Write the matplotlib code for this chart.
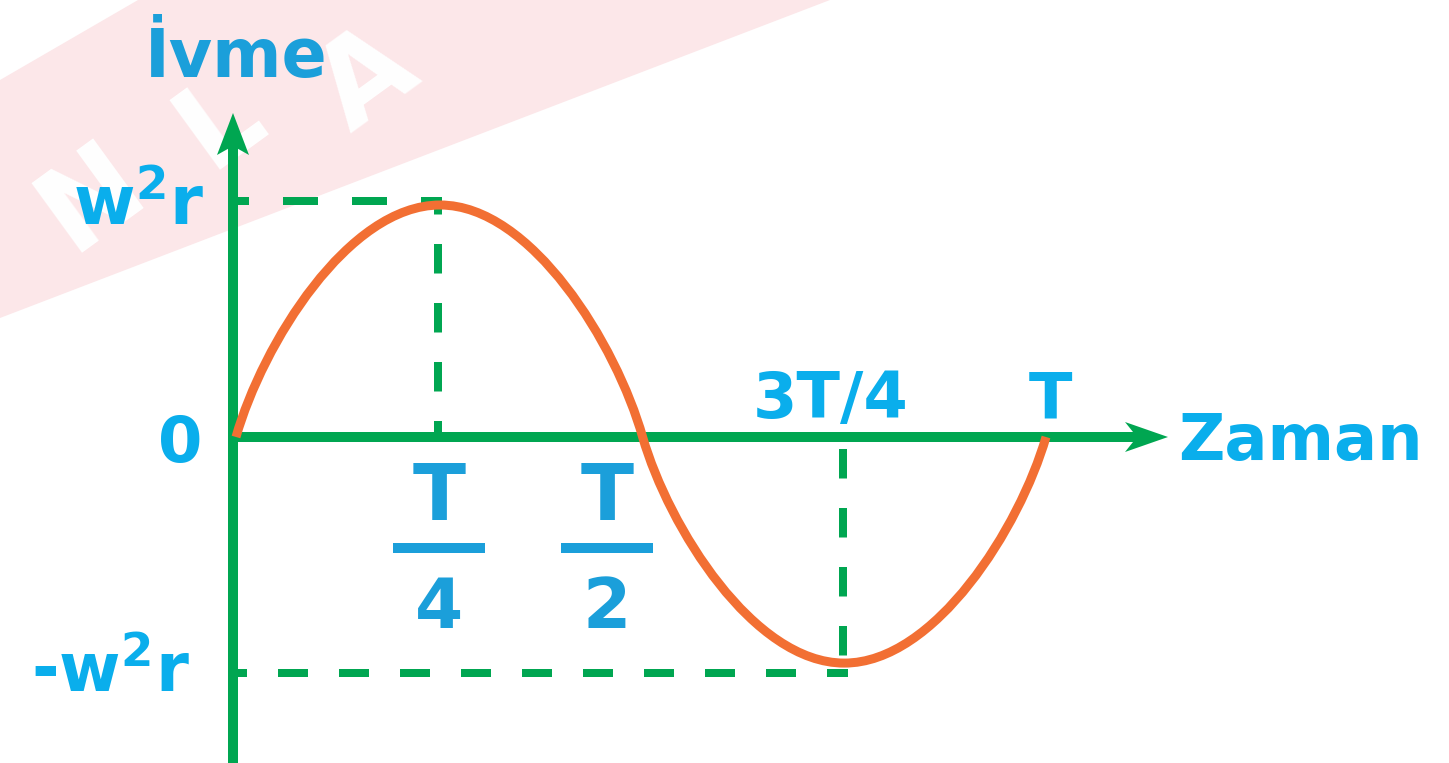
import numpy as np
import matplotlib
matplotlib.use("Agg")
import matplotlib.pyplot as plt
from matplotlib.patches import Polygon, PathPatch
from matplotlib.path import Path

plt.rcParams['lines.scale_dashes'] = False
plt.rcParams['font.family'] = ['DejaVu Sans']
plt.rcParams['mathtext.fontset'] = 'dejavusans'

# ---------------- data (t in units of T, a in units of w²r) ----------------
period = 1.0
# anchor points of the drawn curve: start, peak, zero crossing, trough, end
anchor_t = [0.000, 0.252, 0.502, 0.751, 1.000]
anchor_a = [0.000, 0.983, 0.000, -0.958, 0.000]
guide_level = 1.0            # level of the dashed ±w²r guides
peak_time = 0.25             # T/4
trough_time = 0.75           # 3T/4

y_labels = [r"w$^\mathbf{2}$r", "0", r"-w$^\mathbf{2}$r"]
top_labels = ["3T/4", "T"]
frac_nums = ["T", "T"]
frac_dens = ["4", "2"]
frac_times = [0.25, 0.5]
axis_names = ["İvme", "Zaman"]
watermark = ["N", "L", "A"]

# ---------------- layout helpers (pixel <-> data) ----------------
W, H = 1449, 763
X0, Y0 = 236.0, 437.0   # origin in pixels
PX_T = 810.0            # pixels per period
PX_A = 236.0            # pixels per unit acceleration

def dx(px):
    return px / PX_T

def dy(px):
    return px / PX_A

def X(px):
    return (px - X0) / PX_T

def Y(px):
    return (Y0 - px) / PX_A

fig = plt.figure(figsize=(W / 100, H / 100), dpi=100)
ax = fig.add_axes([0, 0, 1, 1])
ax.set_xlim(X(0), X(W))
ax.set_ylim(Y(H), Y(0))
ax.axis('off')

GREEN = '#00A651'
ORANGE = '#F26F33'
CYAN = '#0AAEEC'
BLUE = '#1B9FDA'
PINK = '#FCE7E9'
PT = 0.72  # points per pixel

# ---------------- watermark ----------------
band = Polygon([(X(0), Y(80)), (X(138), Y(0)), (X(830), Y(0)), (X(0), Y(318))],
               closed=True, facecolor=PINK, edgecolor='none', zorder=0)
ax.add_patch(band)
for ch, (px, py) in zip(watermark, [(92, 198), (220, 122), (368, 82)]):
    ax.text(X(px), Y(py), ch, color='white', fontsize=84, fontweight='bold',
            rotation=36, ha='center', va='center', zorder=0.5)

# ---------------- axes with arrows ----------------
y_tip = Y(113)
x_tip = X(1168)
ax.plot([X(233), X(233)], [Y(H + 10), y_tip - dy(30)], color=GREEN, lw=10 * PT,
        solid_capstyle='butt', zorder=3)
ax.plot([X(229), x_tip - dx(30)], [0, 0], color=GREEN, lw=10 * PT,
        solid_capstyle='butt', zorder=3)
ax.add_patch(Polygon([(x_tip, 0), (x_tip - dx(43), dy(15)), (x_tip - dx(31), 0),
                      (x_tip - dx(43), -dy(15))], closed=True,
                     facecolor=GREEN, edgecolor='none', zorder=3))
yx = X(233)
ax.add_patch(Polygon([(yx, y_tip), (yx - dx(16), y_tip - dy(42)), (yx, y_tip - dy(33)),
                      (yx + dx(16), y_tip - dy(42))], closed=True,
                     facecolor=GREEN, edgecolor='none', zorder=3))

# ---------------- dashed guides ----------------
dash_kw = dict(color=GREEN, lw=8 * PT, dash_capstyle='butt', zorder=2)
ax.plot([X(236), peak_time + dx(4)], [guide_level, guide_level],
        linestyle=(22 * PT, (35 * PT, 34 * PT)), **dash_kw)
ax.plot([peak_time, peak_time], [guide_level + dy(4), 0],
        linestyle=(12 * PT, (29.5 * PT, 29.5 * PT)), **dash_kw)
ax.plot([X(236), trough_time + dx(4)], [-guide_level, -guide_level],
        linestyle=(19 * PT, (30 * PT, 31 * PT)), **dash_kw)
ax.plot([trough_time, trough_time], [0, -guide_level - dy(4)],
        linestyle=(-12 * PT, (29.5 * PT, 29.5 * PT)), **dash_kw)

# ---------------- curve: cubic Bezier quarter-waves between the anchors ----------------
STEEP_T, STEEP_A, FLAT_T = 0.13, 0.40, 0.45   # handle shape (style)
verts = [(anchor_t[0] * period, anchor_a[0])]
codes = [Path.MOVETO]
for i in range(len(anchor_t) - 1):
    t0, a0 = anchor_t[i] * period, anchor_a[i]
    t1, a1 = anchor_t[i + 1] * period, anchor_a[i + 1]
    Dt, Da = t1 - t0, a1 - a0
    if a0 == 0:   # leaving a zero crossing: steep start, flat end
        c1 = (t0 + STEEP_T * Dt, a0 + STEEP_A * Da)
        c2 = (t1 - FLAT_T * Dt, a1)
    else:         # leaving an extremum: flat start, steep end
        c1 = (t0 + FLAT_T * Dt, a0)
        c2 = (t1 - STEEP_T * Dt, a1 - STEEP_A * Da)
    verts += [c1, c2, (t1, a1)]
    codes += [Path.CURVE4] * 3
ax.add_patch(PathPatch(Path(verts, codes), facecolor='none', edgecolor=ORANGE,
                       lw=9 * PT, capstyle='butt', joinstyle='round', zorder=4))

# ---------------- labels ----------------
bold = dict(fontweight='bold')
ax.text(X(236), Y(77), axis_names[0], color=BLUE, fontsize=48, ha='center',
        va='baseline', **bold)
ax.text(X(1178), Y(460), axis_names[1], color=CYAN, fontsize=46, ha='left',
        va='baseline', **bold)

ax.text(X(204), Y(225), y_labels[0], color=CYAN, fontsize=48, ha='right',
        va='baseline', **bold)
ax.text(X(180), Y(462), y_labels[1], color=CYAN, fontsize=46, ha='center',
        va='baseline', **bold)
ax.text(X(190), Y(692), y_labels[2], color=CYAN, fontsize=48, ha='right',
        va='baseline', **bold)

ax.text(X(831), Y(418), top_labels[0], color=CYAN, fontsize=46,
        ha='center', va='baseline', **bold)
ax.text(X(1051), Y(418), top_labels[1], color=CYAN, fontsize=46,
        ha='center', va='baseline', **bold)

for ft, num, den, cxp in zip(frac_times, frac_nums, frac_dens, [439, 607]):
    cx = X(cxp)
    ax.text(cx, Y(520), num, color=BLUE, fontsize=56, ha='center', va='baseline', **bold)
    ax.plot([cx - dx(46), cx + dx(46)], [Y(548), Y(548)], color=BLUE,
            lw=10 * PT, solid_capstyle='butt')
    ax.text(cx, Y(628), den, color=BLUE, fontsize=50, ha='center', va='baseline', **bold)

fig.savefig('out.png', dpi=100)
